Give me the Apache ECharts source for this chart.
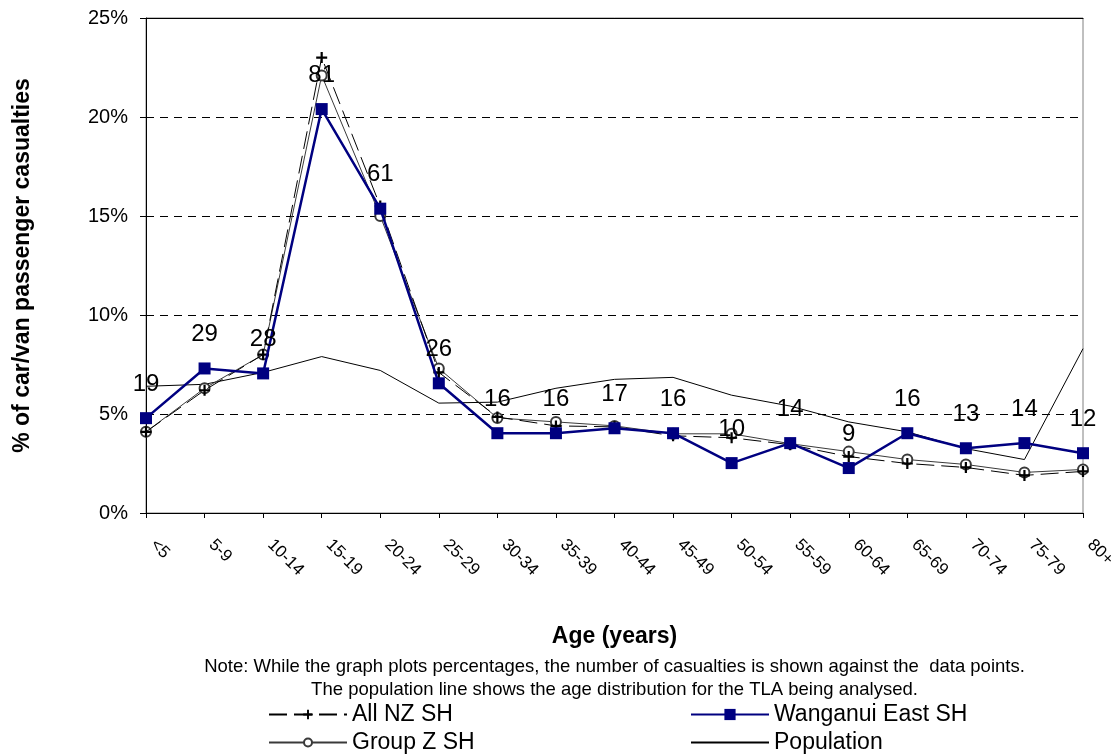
<!DOCTYPE html>
<html>
<head>
<meta charset="utf-8">
<script src="https://cdn.jsdelivr.net/npm/echarts@6/dist/echarts.min.js"></script>
<style>
  html, body { margin: 0; padding: 0; background: #fff; }
  #chart { width: 1116px; height: 755px; }
</style>
</head>
<body>
<div id="chart"></div>
<script>
// Age bands on the x axis
const ageBands = ['<5', '5-9', '10-14', '15-19', '20-24', '25-29', '30-34', '35-39',
  '40-44', '45-49', '50-54', '55-59', '60-64', '65-69', '70-74', '75-79', '80+'];

// Share of car/van passenger casualties by age band (%)
const allNzSh = [4.1, 6.2, 8.0, 23.0, 15.5, 7.1, 4.85, 4.4, 4.35, 3.9, 3.8, 3.45, 2.85, 2.5, 2.3, 1.9, 2.1];
const groupZSh = [4.1, 6.3, 8.0, 22.1, 15.0, 7.3, 4.8, 4.6, 4.4, 4.0, 4.0, 3.5, 3.1, 2.7, 2.45, 2.05, 2.2];
const wanganuiEastSh = [4.79, 7.30, 7.05, 20.40, 15.37, 6.55, 4.03, 4.03, 4.28, 4.03, 2.52, 3.53, 2.27, 4.03, 3.27, 3.53, 3.02];
const population = [6.4, 6.5, 7.1, 7.9, 7.2, 5.55, 5.6, 6.3, 6.75, 6.85, 5.95, 5.4, 4.6, 4.1, 3.25, 2.7, 8.3];

// Number of casualties shown against the Wanganui East points
const wanganuiCounts = [19, 29, 28, 81, 61, 26, 16, 16, 17, 16, 10, 14, 9, 16, 13, 14, 12];

// Y axis ticks
const yTicks = [0, 5, 10, 15, 20, 25];

const noteLines = [
  'Note: While the graph plots percentages, the number of casualties is shown against the  data points.',
  'The population line shows the age distribution for the TLA being analysed.'
];

const FONT = '"Liberation Sans", Arial, sans-serif';
const plusSymbol = 'path://M4,0h2v4h4v2h-4v4h-2v-4h-4v-2h4z';

// one legend box per entry, laid out in two columns of two rows
function legendBox(name, left, top, iconHeight, extra) {
  return {
    left: left, top: top, padding: 0,
    itemWidth: 78, itemHeight: iconHeight,
    textStyle: { fontSize: 23, lineHeight: 22, color: '#000', fontFamily: FONT },
    data: [Object.assign({ name: name }, extra || {})]
  };
}

const chart = echarts.init(document.getElementById('chart'), null, { renderer: 'canvas' });

chart.setOption({
  backgroundColor: '#ffffff',
  animation: false,
  textStyle: { fontFamily: FONT, color: '#000' },
  grid: {
    left: 146, right: 33, top: 18, bottom: 242,
    containLabel: false,
    outerBoundsMode: 'none',
    show: true, borderColor: '#808080', borderWidth: 1, backgroundColor: 'transparent'
  },
  xAxis: [{
    type: 'category',
    data: ageBands,
    boundaryGap: false,
    axisLine: { lineStyle: { color: '#000', width: 1 } },
    axisTick: { show: true, length: 5, lineStyle: { color: '#000' } },
    axisLabel: {
      rotate: -45, margin: 22, fontSize: 17, color: '#000', fontFamily: FONT,
      interval: 0, padding: [0, 0, 0, 10]
    },
    name: 'Age (years)',
    nameLocation: 'middle',
    nameGap: 112,
    nameTextStyle: { fontSize: 23, fontWeight: 'bold', color: '#000', fontFamily: FONT }
  }, {
    // solid top edge of the plot area
    type: 'category',
    position: 'top',
    data: ageBands,
    boundaryGap: false,
    axisLine: { show: true, lineStyle: { color: '#000', width: 1 } },
    axisTick: { show: false },
    axisLabel: { show: false }
  }],
  yAxis: {
    type: 'value',
    min: yTicks[0],
    max: yTicks[yTicks.length - 1],
    interval: 5,
    axisLine: { show: true, lineStyle: { color: '#000', width: 1 } },
    axisTick: { show: true, length: 6, lineStyle: { color: '#000' } },
    axisLabel: { formatter: '{value}%', fontSize: 20, color: '#000', margin: 18, fontFamily: FONT },
    splitLine: { show: true, lineStyle: { color: '#000', type: [8, 6], width: 1 } },
    name: '% of car/van passenger casualties',
    nameLocation: 'middle',
    nameGap: 112,
    nameRotate: 90,
    nameTextStyle: { fontSize: 23, fontWeight: 'bold', color: '#000', fontFamily: FONT }
  },
  legend: [
    legendBox('All NZ SH', 268, 703, 12),
    legendBox('Group Z SH', 268, 731, 10),
    legendBox('Wanganui East SH', 690, 703, 14),
    legendBox('Population', 690, 731, 10, { itemStyle: { opacity: 0 } })
  ],
  graphic: noteLines.map((t, i) => ({
    type: 'text',
    x: 614.5,
    y: 657 + i * 23,
    style: { text: t, fontSize: 18.5, fill: '#000', fontFamily: FONT, textAlign: 'center' }
  })),
  series: [{
    name: 'Population',
    type: 'line',
    data: population,
    symbol: 'none',
    lineStyle: { color: '#000', width: 1 },
    itemStyle: { color: '#000' },
    z: 2
  }, {
    name: 'Group Z SH',
    type: 'line',
    data: groupZSh,
    symbol: 'emptyCircle',
    symbolSize: 10,
    lineStyle: { color: '#3a3a3a', width: 1 },
    itemStyle: { color: '#3a3a3a', borderColor: '#3a3a3a', borderWidth: 2 },
    z: 3
  }, {
    name: 'All NZ SH',
    type: 'line',
    data: allNzSh,
    symbol: plusSymbol,
    symbolSize: 11,
    lineStyle: { color: '#000', width: 1, type: [18, 7] },
    itemStyle: { color: '#000' },
    z: 4
  }, {
    name: 'Wanganui East SH',
    type: 'line',
    data: wanganuiEastSh,
    symbol: 'rect',
    symbolSize: 12,
    lineStyle: { color: '#000080', width: 2.5 },
    itemStyle: { color: '#000080' },
    label: {
      show: true,
      position: 'top',
      distance: 16,
      fontSize: 24,
      color: '#000',
      fontFamily: FONT,
      formatter: p => String(wanganuiCounts[p.dataIndex])
    },
    z: 5
  }]
});
</script>
</body>
</html>
